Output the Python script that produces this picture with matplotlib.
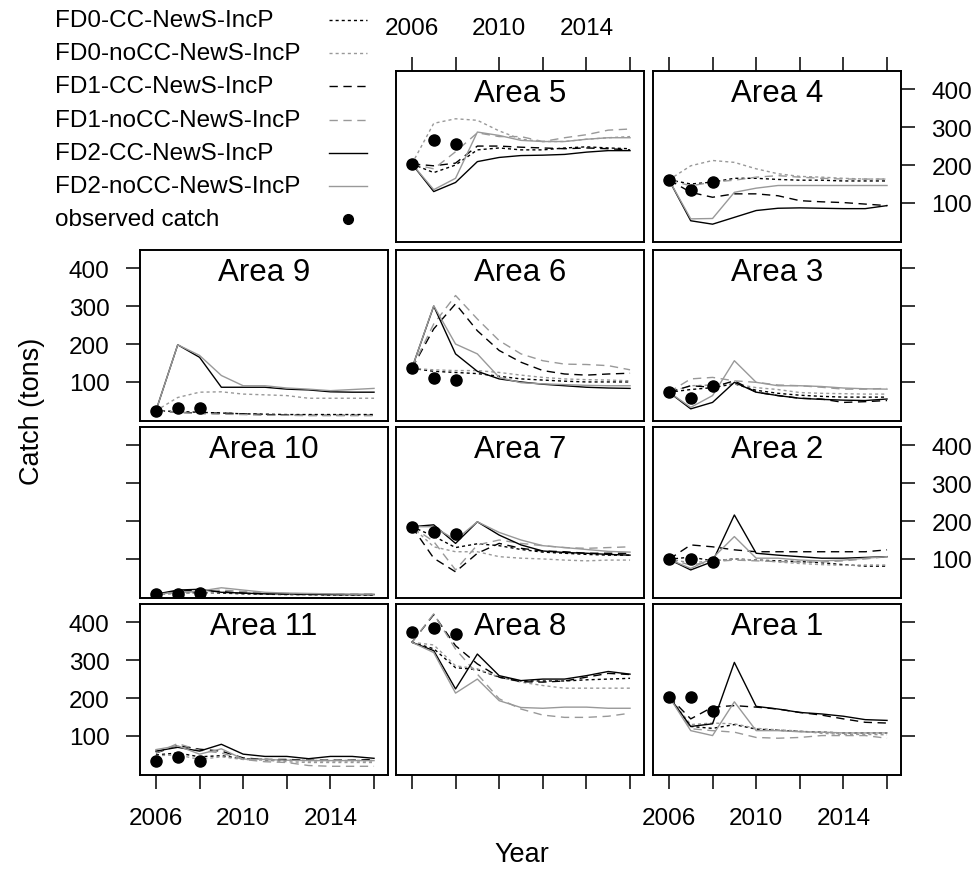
import matplotlib
matplotlib.use('Agg')
import matplotlib.pyplot as plt
import numpy as np

plt.rcParams['font.family'] = ['Liberation Sans', 'DejaVu Sans']

years = np.arange(2006, 2017)
obs_years = [2006, 2007, 2008]

scenarios = ['FD0-CC-NewS-IncP', 'FD0-noCC-NewS-IncP', 'FD1-CC-NewS-IncP',
             'FD1-noCC-NewS-IncP', 'FD2-CC-NewS-IncP', 'FD2-noCC-NewS-IncP']

# catch (tons) per scenario, 2006-2016, same order as scenarios
area5 = [[203, 180, 200, 240, 245, 240, 240, 245, 248, 245, 243],
         [203, 310, 322, 318, 290, 268, 262, 262, 268, 272, 275],
         [203, 198, 205, 250, 250, 247, 245, 243, 245, 243, 240],
         [203, 190, 235, 285, 275, 275, 262, 272, 280, 292, 295],
         [203, 130, 154, 209, 220, 225, 226, 228, 234, 238, 238],
         [203, 135, 165, 287, 278, 265, 262, 262, 268, 272, 272]]
obs5 = [203, 266, 256]

area4 = [[161, 150, 155, 165, 165, 162, 160, 160, 158, 158, 158],
         [161, 198, 212, 207, 190, 177, 170, 168, 165, 163, 163],
         [161, 128, 115, 124, 124, 119, 106, 103, 101, 97, 93],
         [161, 145, 155, 160, 168, 172, 168, 165, 163, 163, 163],
         [161, 53, 44, 62, 80, 86, 87, 86, 85, 85, 93],
         [161, 58, 59, 128, 139, 146, 146, 146, 146, 146, 146]]
obs4 = [161, 135, 156]

area9 = [[24, 22, 20, 18, 16, 15, 14, 14, 14, 14, 14],
         [24, 59, 73, 74, 68, 66, 64, 57, 57, 57, 57],
         [24, 20, 18, 18, 16, 14, 13, 12, 12, 12, 12],
         [24, 20, 16, 15, 14, 12, 12, 11, 11, 11, 11],
         [24, 198, 165, 86, 86, 86, 81, 79, 74, 73, 73],
         [24, 198, 170, 117, 90, 90, 84, 81, 77, 80, 83]]
obs9 = [24, 30, 30]

area6 = [[136, 128, 125, 122, 115, 108, 105, 102, 100, 100, 100],
         [136, 132, 130, 130, 125, 118, 112, 108, 106, 105, 103],
         [136, 240, 306, 235, 183, 152, 130, 121, 118, 121, 123],
         [136, 253, 328, 266, 209, 174, 156, 147, 146, 143, 132],
         [136, 300, 174, 128, 108, 100, 94, 90, 86, 84, 83],
         [136, 301, 200, 174, 112, 98, 95, 93, 91, 90, 90]]
obs6 = [136, 110, 105]

area3 = [[73, 80, 85, 95, 78, 70, 65, 62, 60, 60, 60],
         [73, 90, 92, 95, 85, 80, 72, 70, 69, 68, 68],
         [73, 90, 86, 103, 73, 64, 57, 55, 46, 48, 51],
         [73, 108, 112, 103, 99, 92, 90, 86, 81, 81, 83],
         [73, 29, 46, 99, 73, 64, 57, 54, 52, 51, 55],
         [73, 33, 64, 156, 99, 90, 90, 88, 84, 82, 81]]
obs3 = [73, 57, 90]

area10 = [[7, 10, 12, 10, 8, 7, 6, 6, 5, 5, 5],
          [7, 9, 10, 12, 10, 8, 7, 6, 6, 6, 6],
          [7, 15, 18, 14, 10, 8, 7, 6, 6, 6, 6],
          [7, 12, 14, 18, 14, 10, 9, 8, 7, 7, 7],
          [7, 18, 20, 12, 10, 8, 8, 7, 6, 6, 6],
          [7, 12, 15, 24, 18, 12, 10, 9, 8, 7, 7]]
obs10 = [7, 8, 11]

area7 = [[185, 160, 130, 140, 135, 125, 118, 115, 112, 110, 110],
         [185, 132, 119, 119, 106, 102, 100, 97, 95, 97, 97],
         [185, 102, 66, 115, 141, 128, 121, 119, 115, 115, 115],
         [185, 146, 71, 137, 150, 141, 135, 130, 128, 130, 132],
         [185, 190, 141, 198, 163, 137, 121, 117, 115, 112, 110],
         [185, 185, 150, 198, 170, 150, 135, 130, 125, 120, 118]]
obs7 = [185, 170, 165]

area2 = [[99, 105, 95, 100, 97, 95, 93, 90, 85, 81, 81],
         [99, 90, 95, 100, 97, 92, 88, 85, 83, 84, 84],
         [99, 137, 132, 124, 119, 119, 119, 119, 119, 119, 124],
         [99, 84, 93, 97, 95, 93, 92, 92, 95, 100, 106],
         [99, 71, 93, 216, 115, 110, 106, 102, 102, 104, 106],
         [99, 75, 102, 159, 102, 102, 97, 95, 97, 102, 106]]
obs2 = [99, 99, 93]

area11 = [[50, 55, 45, 48, 40, 38, 36, 35, 35, 35, 35],
          [48, 50, 38, 45, 38, 36, 32, 30, 30, 30, 30],
          [55, 75, 65, 60, 42, 38, 38, 36, 36, 36, 38],
          [55, 80, 62, 55, 38, 32, 30, 22, 20, 20, 20],
          [60, 70, 60, 78, 52, 46, 46, 40, 46, 46, 41],
          [64, 74, 52, 66, 39, 38, 36, 35, 35, 35, 35]]
obs11 = [35, 45, 35]

area8 = [[347, 330, 280, 275, 255, 245, 245, 245, 248, 250, 252],
         [347, 340, 285, 277, 255, 242, 233, 226, 226, 226, 226],
         [347, 420, 338, 290, 255, 243, 242, 245, 255, 265, 262],
         [347, 422, 329, 263, 198, 171, 155, 149, 149, 152, 160],
         [347, 325, 224, 316, 259, 246, 250, 250, 259, 270, 263],
         [347, 320, 213, 250, 193, 175, 173, 176, 176, 173, 173]]
obs8 = [375, 384, 369]

area1 = [[204, 125, 120, 130, 118, 115, 112, 110, 108, 108, 108],
         [204, 130, 134, 132, 120, 116, 113, 107, 104, 104, 103],
         [204, 145, 176, 180, 176, 171, 162, 155, 145, 136, 134],
         [204, 119, 114, 110, 96, 94, 96, 101, 101, 101, 94],
         [204, 125, 132, 294, 178, 171, 162, 158, 152, 143, 141],
         [204, 114, 101, 190, 114, 114, 111, 110, 108, 108, 108]]
obs1 = [204, 204, 165]

GREY = '#999999'
styles = [dict(color='black', dashes=(2.2, 2.2)),
          dict(color=GREY, dashes=(2.2, 2.2)),
          dict(color='black', dashes=(6, 4)),
          dict(color=GREY, dashes=(6, 4)),
          dict(color='black', linestyle='-'),
          dict(color=GREY, linestyle='-')]

# (title, series, observed, row, col)
panels = [('Area 5', area5, obs5, 0, 1), ('Area 4', area4, obs4, 0, 2),
          ('Area 9', area9, obs9, 1, 0), ('Area 6', area6, obs6, 1, 1),
          ('Area 3', area3, obs3, 1, 2), ('Area 10', area10, obs10, 2, 0),
          ('Area 7', area7, obs7, 2, 1), ('Area 2', area2, obs2, 2, 2),
          ('Area 11', area11, obs11, 3, 0), ('Area 8', area8, obs8, 3, 1),
          ('Area 1', area1, obs1, 3, 2)]

W, H = 979, 879
col_left = [140, 396, 653]
row_top = [72, 251, 428, 605]
pw, ph = 248, 171

fig = plt.figure(figsize=(W / 100, H / 100), dpi=100)

for title, series, obs, r, c in panels:
    ax = fig.add_axes([col_left[c] / W, 1 - (row_top[r] + ph) / H, pw / W, ph / H])
    for vals, st in zip(series, styles):
        ax.plot(years, vals, lw=1.0, **st)
    ax.plot(obs_years, obs, 'o', color='black', ms=8, zorder=5)
    ax.set_xlim(2005.27, 2016.64)
    ax.set_ylim(-3, 448)
    ax.set_xticks(range(2006, 2017, 2))
    ax.set_xticklabels(['2006', '', '2010', '', '2014', ''])
    ax.set_yticks([100, 200, 300, 400])
    ax.set_yticklabels(['100', '200', '300', '400'])
    for s in ax.spines.values():
        s.set_linewidth(1.4)
    ax.text(0.5, 1 - 30 / ph, title, transform=ax.transAxes, ha='center',
            va='baseline', fontsize=22.5)

    top = r == 0
    bottom = r == 3
    left = c == 0
    right = c == 2
    ax.tick_params(axis='x', direction='out', length=10, width=1.1, labelsize=17.5,
                   pad=13, top=top, bottom=bottom,
                   labeltop=top and c == 1, labelbottom=bottom and c != 1)
    ax.tick_params(axis='y', direction='out', length=10, width=1.1, labelsize=17.5,
                   pad=12, left=left, right=right,
                   labelleft=left and r in (1, 3), labelright=right and r in (0, 2))

# key: labels on the left, line samples on the right
key_labels = scenarios + ['observed catch']
for i, lab in enumerate(key_labels):
    yk = 1 - (21 + 33.2 * i) / H
    fig.text(55 / W, yk, lab, ha='left', va='center', fontsize=17.5)
    if i < len(styles):
        fig.add_artist(plt.Line2D([329 / W, 367 / W], [yk, yk], lw=1.0,
                                  transform=fig.transFigure, **styles[i]))
    else:
        fig.add_artist(plt.Line2D([348 / W], [yk], ls='none', marker='o',
                                  color='black', ms=7, transform=fig.transFigure))

fig.text(32 / W, 1 - 411 / H, 'Catch (tons)', rotation=90, ha='center',
         va='center', fontsize=19.5)
fig.text(522 / W, 1 - 855 / H, 'Year', ha='center', va='center', fontsize=19.5)

fig.savefig('out.png', dpi=100, facecolor='white')
